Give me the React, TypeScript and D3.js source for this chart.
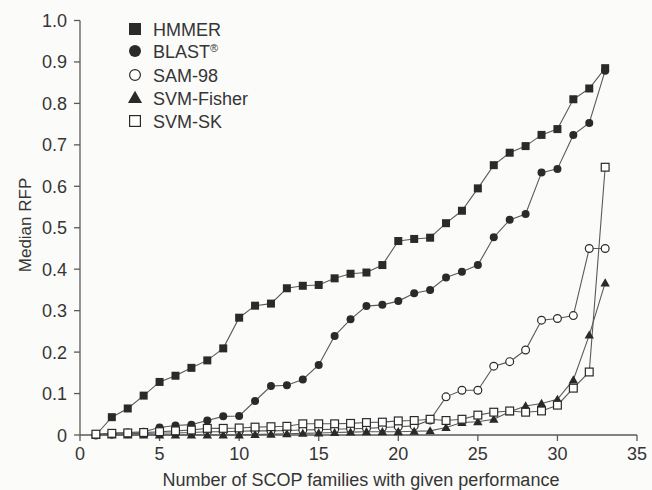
import React from "react";
import * as d3 from "d3";

const families = d3.range(1, 34);
const hmmer = [0, 0.043, 0.064, 0.095, 0.128, 0.143, 0.162, 0.18, 0.209, 0.283, 0.312, 0.317, 0.354, 0.36, 0.362, 0.378, 0.389, 0.392, 0.41, 0.468, 0.473, 0.476, 0.511, 0.541, 0.595, 0.651, 0.681, 0.697, 0.724, 0.738, 0.81, 0.836, 0.885];
const blast = [0, 0.005, 0.006, 0.008, 0.018, 0.023, 0.025, 0.035, 0.045, 0.046, 0.082, 0.118, 0.12, 0.134, 0.169, 0.239, 0.279, 0.311, 0.314, 0.323, 0.342, 0.35, 0.38, 0.394, 0.41, 0.477, 0.519, 0.533, 0.633, 0.642, 0.724, 0.753, 0.879];
const sam98 = [0, 0.002, 0.003, 0.004, 0.005, 0.005, 0.006, 0.008, 0.008, 0.009, 0.01, 0.01, 0.011, 0.012, 0.013, 0.014, 0.015, 0.016, 0.018, 0.02, 0.022, 0.036, 0.092, 0.108, 0.108, 0.166, 0.177, 0.205, 0.277, 0.281, 0.288, 0.45, 0.45];
const svmFisher = [0, 0, 0, 0, 0, 0, 0, 0, 0, 0, 0.001, 0.002, 0.003, 0.004, 0.005, 0.006, 0.007, 0.008, 0.008, 0.008, 0.009, 0.01, 0.018, 0.03, 0.032, 0.038, 0.056, 0.07, 0.076, 0.086, 0.133, 0.241, 0.367];
const svmSK = [0.002, 0.004, 0.005, 0.006, 0.008, 0.01, 0.012, 0.016, 0.016, 0.017, 0.019, 0.02, 0.021, 0.027, 0.027, 0.027, 0.028, 0.03, 0.031, 0.034, 0.035, 0.038, 0.035, 0.038, 0.048, 0.055, 0.058, 0.055, 0.058, 0.072, 0.113, 0.152, 0.646];

const seriesNames = ["HMMER", "BLAST®", "SAM-98", "SVM-Fisher", "SVM-SK"];
const seriesShapes = ["filledSquare", "filledCircle", "openCircle", "filledTriangle", "openSquare"];
const seriesValues = [hmmer, blast, sam98, svmFisher, svmSK];

const xTicks = [0, 5, 10, 15, 20, 25, 30, 35];
const yTicks = [0, 0.1, 0.2, 0.3, 0.4, 0.5, 0.6, 0.7, 0.8, 0.9, 1.0];
const xTitle = "Number of SCOP families with given performance";
const yTitle = "Median RFP";

const W = 652, H = 490;
const X0 = 80, X1 = 637, Y0 = 435, Y1 = 20.5;
const FONT = "'Liberation Sans', Arial, Helvetica, sans-serif";
const INK = "#2a2a2a";
const LINE = "#5a5a5a";
const TXT = "#353535";

function Marker({ shape, x, y, s }: { shape: string; x: number; y: number; s: number }) {
  const sw = 1.2;
  if (shape === "filledSquare")
    return <rect x={x - s / 2} y={y - s / 2} width={s} height={s} fill={INK} />;
  if (shape === "openSquare")
    return <rect x={x - s / 2 + 0.6} y={y - s / 2 + 0.6} width={s - 1.2} height={s - 1.2} fill="#fff" stroke={INK} strokeWidth={sw} />;
  if (shape === "filledCircle")
    return <circle cx={x} cy={y} r={s / 2} fill={INK} />;
  if (shape === "openCircle")
    return <circle cx={x} cy={y} r={s / 2 - 0.6} fill="#fff" stroke={INK} strokeWidth={sw} />;
  const sym = d3.symbol(d3.symbolTriangle, s * s * 0.6)();
  return <path d={sym || ""} transform={`translate(${x},${y + 0.8})`} fill={INK} />;
}

export default function App() {
  const x = d3.scaleLinear().domain([0, 35]).range([X0, X1]);
  const y = d3.scaleLinear().domain([0, 1]).range([Y0, Y1]);
  const line = d3
    .line<number>()
    .x((_, i) => x(families[i]))
    .y((d) => y(d));

  const legendY = [29, 51, 75, 98, 121];

  return (
    <svg
      width={W}
      height={H}
      style={{ position: "fixed", left: 0, top: 0, background: "#fbfbf9" }}
      fontFamily={FONT}
    >
      <rect width={W} height={H} fill="#fbfbf9" />
      {/* axes */}
      <line x1={X0} y1={Y0} x2={X1} y2={Y0} stroke={LINE} strokeWidth={1.3} />
      <line x1={X0} y1={Y0} x2={X0} y2={Y1} stroke={LINE} strokeWidth={1.3} />
      {yTicks.map((t) => (
        <g key={"y" + t}>
          <line x1={X0 - 6} x2={X0} y1={y(t)} y2={y(t)} stroke={LINE} strokeWidth={1.3} />
          <text x={X0 - 13} y={y(t) + 6.5} textAnchor="end" fontSize={18} fill={TXT}>
            {t === 0 ? "0" : d3.format(".1f")(t)}
          </text>
        </g>
      ))}
      {xTicks.map((t) => (
        <g key={"x" + t}>
          <line x1={x(t)} x2={x(t)} y1={Y0} y2={Y0 + 6} stroke={LINE} strokeWidth={1.3} />
          <text x={x(t)} y={Y0 + 25} textAnchor="middle" fontSize={18} fill={TXT}>
            {t}
          </text>
        </g>
      ))}
      <text x={361} y={486} textAnchor="middle" fontSize={18} fill={TXT}>
        {xTitle}
      </text>
      <text
        transform={`translate(31,225) rotate(-90)`}
        textAnchor="middle"
        fontSize={17}
        fill={TXT}
      >
        {yTitle}
      </text>

      {/* lines */}
      {seriesValues.map((vals, si) => (
        <path key={"l" + si} d={line(vals) || ""} fill="none" stroke={LINE} strokeWidth={1.1} />
      ))}
      {/* markers */}
      {seriesValues.map((vals, si) => (
        <g key={"m" + si}>
          {vals.map((v, i) => (
            <Marker
              key={i}
              shape={seriesShapes[si]}
              x={x(families[i])}
              y={y(v)}
              s={seriesShapes[si].startsWith("open") ? 9 : 8}
            />
          ))}
        </g>
      ))}

      {/* legend */}
      {seriesNames.map((n, i) => (
        <g key={"lg" + i}>
          <Marker shape={seriesShapes[i]} x={135} y={legendY[i]} s={12} />
          <text x={153} y={legendY[i] + 6.5} fontSize={18} fill={TXT}>
            {n === "BLAST®" ? (
              <>
                BLAST<tspan fontSize={11} dy={-6}>®</tspan>
              </>
            ) : (
              n
            )}
          </text>
        </g>
      ))}
    </svg>
  );
}
